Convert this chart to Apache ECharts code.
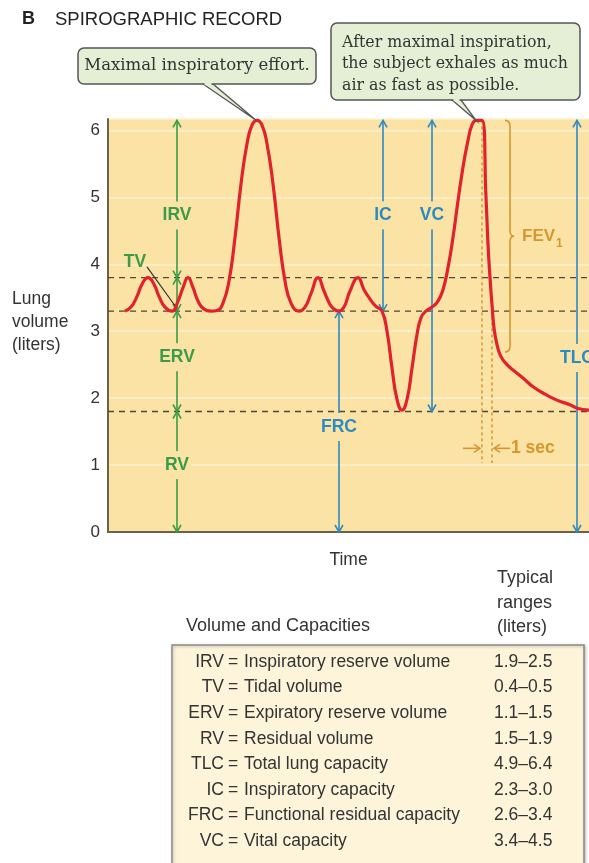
<!DOCTYPE html>
<html>
<head>
<meta charset="utf-8">
<script src="https://cdn.jsdelivr.net/npm/echarts@6/dist/echarts.min.js"></script>
<style>
html,body{margin:0;padding:0;background:#fff}
#main{width:589px;height:863px}
</style>
</head>
<body>
<div id="main"></div>
<script>
// spirogram trace: time (arbitrary units) / lung volume (liters)
var traceT = [17,23,29,34,40,46,51,57,64,70,75,80,85,90,96,103,
  109,115,121,127,133,139,144,149,154,159,165,171,177,183,191,
  197,203,210,216,222,226,231,236,242,250,256,262,268,274,
  279,284,289,294,299,304,309,313,318,324,330,335,340,345,350,355,360,364,368,374,
  378,380,382,384,386,389,393,399,405,415,425,437,449,462,469,481];
var traceV = [3.3,3.36,3.52,3.7,3.8,3.7,3.52,3.36,3.3,3.45,3.65,3.8,3.65,3.45,3.33,3.3,
  3.31,3.42,3.75,4.4,5.2,5.8,6.08,6.15,6.08,5.8,5.2,4.4,3.75,3.42,3.3,
  3.36,3.56,3.8,3.6,3.4,3.33,3.3,3.36,3.6,3.8,3.62,3.48,3.37,3.3,
  3.0,2.45,1.98,1.82,1.98,2.45,2.95,3.2,3.3,3.36,3.45,3.62,3.95,4.4,4.95,5.45,5.85,6.08,6.15,6.15,
  5.0,4.3,3.8,3.4,3.05,2.8,2.62,2.5,2.42,2.3,2.17,2.06,1.97,1.9,1.85,1.82];

var levels = [3.8, 3.3, 1.8];   // dashed reference levels

// volume / capacity arrows
var arrowNames = ['IRV','TV','ERV','RV','FRC','IC','VC','TLC'];
var arrowT     = [69, 69, 69, 69, 231, 275, 324, 469];
var arrowFrom  = [3.8, 3.3, 1.8, 0, 0, 3.3, 1.8, 0];
var arrowTo    = [6.15, 3.8, 3.3, 1.8, 3.3, 6.15, 6.15, 6.15];
var labelT     = [69, 27, 69, 69, 231, 275, 324, 469];
var labelV     = [4.73, 4.03, 2.61, 1.0, 1.57, 4.73, 4.73, 2.6];
var arrowKind  = ['g','g','g','g','b','b','b','b'];
var tvLeader   = [39, 3.96, 67, 3.38];

// forced expiration timing
var secT = [374, 384];
var secFrom = [6.15, 3.4];
var secTo = 1.03;
var secV = 1.25;
var fevT = 402, fevTop = 6.15, fevBottom = 2.69;

var peak1 = [149, 6.15], peak2 = [367, 6.15];

// table
var tableAbbr  = ['IRV','TV','ERV','RV','TLC','IC','FRC','VC'];
var tableName  = ['Inspiratory reserve volume','Tidal volume','Expiratory reserve volume','Residual volume',
  'Total lung capacity','Inspiratory capacity','Functional residual capacity','Vital capacity'];
var tableRange = ['1.9\u20132.5','0.4\u20130.5','1.1\u20131.5','1.5\u20131.9','4.9\u20136.4','2.3\u20133.0','2.6\u20133.4','3.4\u20134.5'];

var SANS = '"Liberation Sans", Arial, Helvetica, sans-serif';
var SERIF = '"DejaVu Serif", "Liberation Serif", serif';
var bg = '#fbe3a5', red = '#e1222d', green = '#3a9c48', blue = '#2c8ac3', gold = '#d6972f', dashCol = '#4e4636';
var kindColor = {g: green, b: blue};

var chart = echarts.init(document.getElementById('main'));

function chev(pts, color) {
  return {type:'polyline', shape:{points:pts}, style:{stroke:color, lineWidth:1.6, fill:null}};
}

var option = {
  animation: false,
  grid: {left:108, right:0, top:119, bottom:331, show:true, backgroundColor:bg, borderWidth:0},
  xAxis: {
    type:'value', min:0, max:481,
    axisLine:{show:true, lineStyle:{color:'#6c6248', width:2}},
    axisTick:{show:false}, axisLabel:{show:false}, splitLine:{show:false},
    name:'Time', nameLocation:'middle', nameGap:19,
    nameTextStyle:{fontSize:17.5, color:'#333', fontFamily:SANS}
  },
  yAxis: {
    type:'value', min:0, max:6.17, interval:1,
    axisLine:{show:true, lineStyle:{color:'#6c6248', width:2}},
    axisTick:{show:false},
    axisLabel:{fontSize:17, color:'#333', margin:8, fontFamily:SANS,
      formatter:function(v){ return Math.abs(v - Math.round(v)) < 1e-6 ? String(Math.round(v)) : ''; }},
    splitLine:{show:true, lineStyle:{color:'#fdf1d3', width:1.5}}
  },
  series: [
    {
      type:'custom', name:'levels', z:2, silent:true,
      data: levels.map(function(v){ return [0, v]; }),
      renderItem: function(params, api) {
        var a = api.coord([0, api.value(1)]), b = api.coord([481, api.value(1)]);
        return {type:'line', shape:{x1:a[0], y1:a[1], x2:b[0], y2:b[1]},
          style:{stroke:dashCol, lineWidth:1.3, lineDash:[6,5]}};
      }
    },
    {
      type:'custom', name:'arrows', z:3, silent:true,
      data: arrowT.map(function(t, i){ return [t, arrowFrom[i], arrowTo[i], labelT[i], labelV[i]]; }),
      renderItem: function(params, api) {
        var i = params.dataIndex;
        var color = kindColor[arrowKind[i]];
        var lo = api.coord([api.value(0), api.value(1)]);
        var hi = api.coord([api.value(0), api.value(2)]);
        var x = lo[0];
        var kids = [
          {type:'line', shape:{x1:x, y1:lo[1], x2:x, y2:hi[1]}, style:{stroke:color, lineWidth:1.6}},
          chev([[x-4, hi[1]+7],[x, hi[1]],[x+4, hi[1]+7]], color),
          chev([[x-4, lo[1]-7],[x, lo[1]],[x+4, lo[1]-7]], color)
        ];
        if (arrowNames[i] === 'TV') {
          var s = api.coord([tvLeader[0], tvLeader[1]]), e = api.coord([tvLeader[2], tvLeader[3]]);
          kids.push({type:'line', shape:{x1:s[0], y1:s[1], x2:e[0], y2:e[1]}, style:{stroke:'#333', lineWidth:1.2}});
        }
        var lp = api.coord([api.value(3), api.value(4)]);
        kids.push({type:'text', x:lp[0], y:lp[1], style:{text:arrowNames[i], fill:color,
          font:'bold 17.5px ' + SANS, align:'center', verticalAlign:'middle',
          backgroundColor: arrowNames[i] === 'TV' ? null : bg, padding:[5,2]}});
        return {type:'group', children:kids};
      }
    },
    {
      type:'custom', name:'timing', z:3, silent:true,
      data: [[fevT, fevTop, fevBottom]],
      renderItem: function(params, api) {
        var kids = [];
        var yEnd = api.coord([0, secTo])[1];
        secT.forEach(function(t, k) {
          var p = api.coord([t, secFrom[k]]);
          kids.push({type:'line', shape:{x1:p[0], y1:p[1], x2:p[0], y2:yEnd},
            style:{stroke:gold, lineWidth:1.5, lineDash:[3,3]}});
        });
        var a = api.coord([secT[0], secV]), b = api.coord([secT[1], secV]);
        var y = a[1], xa = a[0] - 2, xb = b[0] + 2;
        kids.push({type:'line', shape:{x1:xa-17, y1:y, x2:xa, y2:y}, style:{stroke:gold, lineWidth:1.6}});
        kids.push(chev([[xa-6, y-4],[xa, y],[xa-6, y+4]], gold));
        kids.push({type:'line', shape:{x1:xb, y1:y, x2:xb+16, y2:y}, style:{stroke:gold, lineWidth:1.6}});
        kids.push(chev([[xb+6, y-4],[xb, y],[xb+6, y+4]], gold));
        kids.push({type:'text', x:xb+17, y:y, style:{text:'1 sec', fill:gold, font:'bold 17.5px ' + SANS,
          align:'left', verticalAlign:'middle'}});
        // FEV1 brace
        var top = api.coord([api.value(0), api.value(1)]), bot = api.coord([api.value(0), api.value(2)]);
        var x = top[0], y1 = top[1], y2 = bot[1], ym = (y1 + y2) / 2;
        var d = 'M' + (x-5) + ' ' + y1 + ' Q' + x + ' ' + y1 + ' ' + x + ' ' + (y1+6) +
          ' L' + x + ' ' + (ym-6) + ' Q' + x + ' ' + ym + ' ' + (x+4) + ' ' + ym +
          ' Q' + x + ' ' + ym + ' ' + x + ' ' + (ym+6) +
          ' L' + x + ' ' + (y2-6) + ' Q' + x + ' ' + y2 + ' ' + (x-5) + ' ' + y2;
        kids.push({type:'path', shape:{pathData:d}, style:{stroke:gold, lineWidth:1.6, fill:null}});
        kids.push({type:'text', x:x+12, y:ym, style:{text:'FEV', fill:gold, font:'bold 17px ' + SANS,
          align:'left', verticalAlign:'middle'}});
        kids.push({type:'text', x:x+46, y:ym+8, style:{text:'1', fill:gold, font:'bold 12px ' + SANS,
          align:'left', verticalAlign:'middle'}});
        return {type:'group', children:kids};
      }
    },
    {
      type:'line', name:'volume', z:5, silent:true,
      data: traceT.map(function(t, i){ return [t, traceV[i]]; }),
      smooth:0.5, symbol:'none',
      lineStyle:{color:red, width:3.2}
    }
  ]
};
chart.setOption(option);

// annotations (callouts, titles, table)
var p1 = chart.convertToPixel({gridIndex:0}, peak1);
var p2 = chart.convertToPixel({gridIndex:0}, peak2);
var boxFill = '#e5efd6', boxLine = '#555';
var g = [];
g.push({type:'text', left:22, top:10, style:{text:'B', font:'bold 18px ' + SANS, fill:'#222'}});
g.push({type:'text', left:55, top:10, style:{text:'SPIROGRAPHIC RECORD', font:'18.5px ' + SANS, fill:'#222'}});
g.push({type:'text', left:12, top:288, style:{text:'Lung\nvolume\n(liters)', font:'17.5px ' + SANS, fill:'#333', lineHeight:23}});

// callout 1
g.push({type:'polygon', shape:{points:[[203,84],[213,84],[p1[0]-1,p1[1]]]}, style:{fill:boxFill, stroke:boxLine, lineWidth:1.3}, z:10});
g.push({type:'rect', shape:{x:78, y:48, width:238, height:36, r:6}, style:{fill:boxFill, stroke:boxLine, lineWidth:1.5}, z:11});
g.push({type:'line', shape:{x1:204.5, y1:84, x2:211.5, y2:84}, style:{stroke:boxFill, lineWidth:2.5}, z:12});
g.push({type:'text', x:197, y:66, style:{text:'Maximal inspiratory effort.', font:'16.5px ' + SERIF, fill:'#333',
  align:'center', verticalAlign:'middle'}, z:12});

// callout 2
g.push({type:'polygon', shape:{points:[[452,100],[461,100],[p2[0]+1,p2[1]]]}, style:{fill:boxFill, stroke:boxLine, lineWidth:1.3}, z:10});
g.push({type:'rect', shape:{x:331, y:23, width:249, height:77, r:6}, style:{fill:boxFill, stroke:boxLine, lineWidth:1.5}, z:11});
g.push({type:'line', shape:{x1:453.5, y1:100, x2:459.5, y2:100}, style:{stroke:boxFill, lineWidth:2.5}, z:12});
g.push({type:'text', x:342, y:32, style:{text:'After maximal inspiration,\nthe subject exhales as much\nair as fast as possible.',
  font:'15.8px ' + SERIF, fill:'#333', lineHeight:21.5, align:'left', verticalAlign:'top'}, z:12});

// table
g.push({type:'text', x:186, y:626, style:{text:'Volume and Capacities', font:'18px ' + SANS, fill:'#333', verticalAlign:'middle'}});
g.push({type:'text', x:497, y:566, style:{text:'Typical\nranges\n(liters)', font:'18px ' + SANS, fill:'#333', lineHeight:24.5, verticalAlign:'top'}});
g.push({type:'rect', shape:{x:172, y:645, width:412, height:240}, style:{fill:'#fdf4da', stroke:'#8a8a8a', lineWidth:1.5,
  shadowBlur:3, shadowColor:'rgba(0,0,0,0.25)', shadowOffsetX:1, shadowOffsetY:1}});
tableAbbr.forEach(function(ab, i) {
  var y = 662 + i * 25.6;
  var f = '17.5px ' + SANS;
  g.push({type:'text', x:224, y:y, style:{text:ab, font:f, fill:'#333', align:'right', verticalAlign:'middle'}});
  g.push({type:'text', x:233, y:y, style:{text:'=', font:f, fill:'#333', align:'center', verticalAlign:'middle'}});
  g.push({type:'text', x:244, y:y, style:{text:tableName[i], font:f, fill:'#333', align:'left', verticalAlign:'middle'}});
  g.push({type:'text', x:494, y:y, style:{text:tableRange[i], font:f, fill:'#333', align:'left', verticalAlign:'middle'}});
});
chart.setOption({graphic: g});
</script>
</body>
</html>
